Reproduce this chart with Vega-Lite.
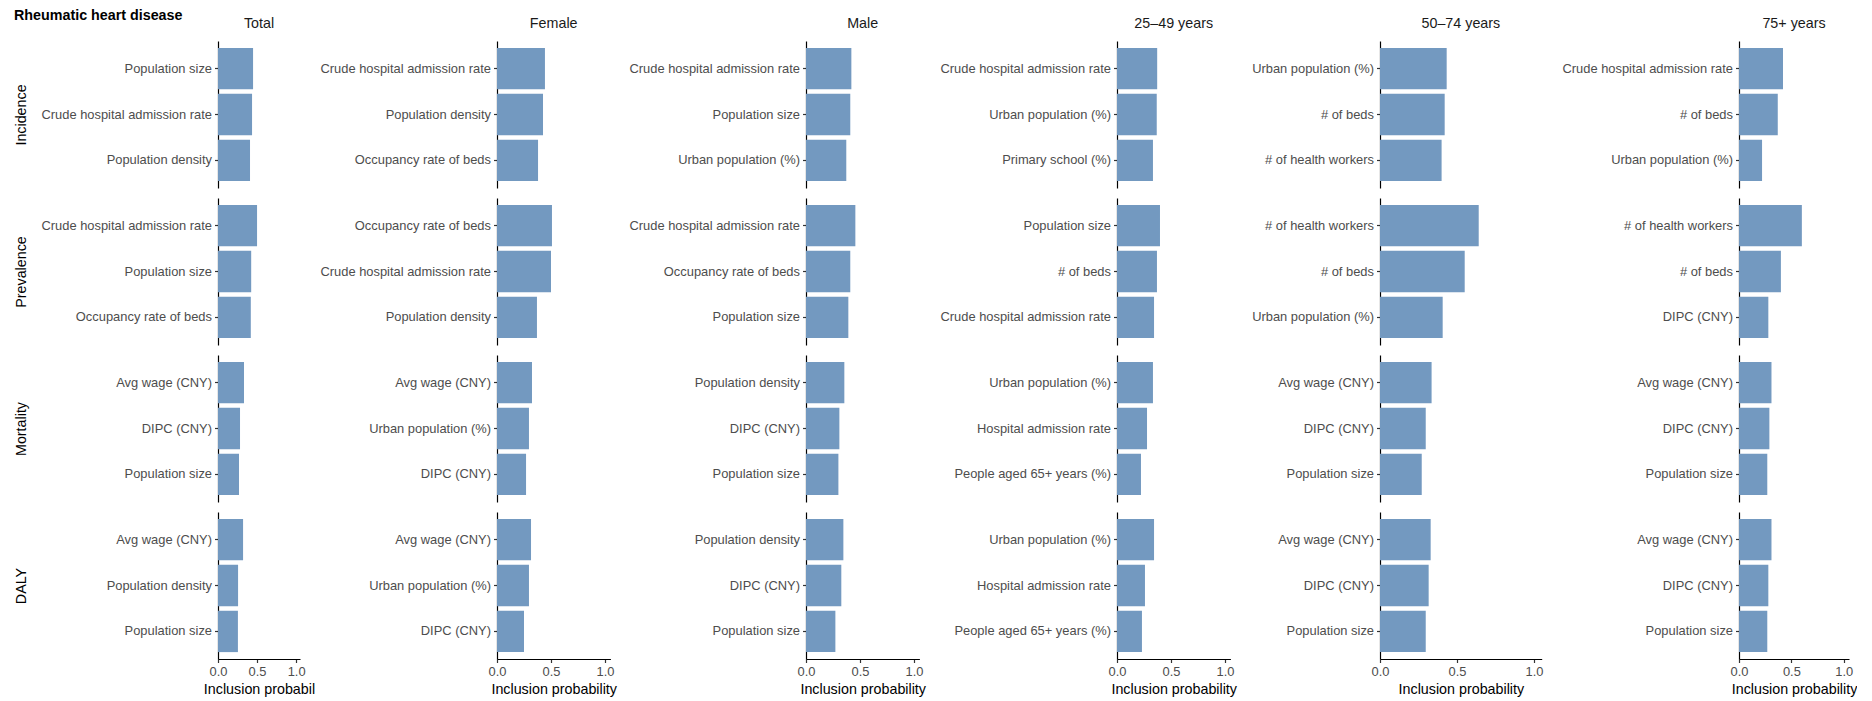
{
"$schema": "https://vega.github.io/schema/vega-lite/v6.json",
"padding": {"left": 14, "top": 9, "right": 0, "bottom": 0},
"title": {"text": "Rheumatic heart disease", "anchor": "start", "fontSize": 14.3, "fontWeight": "bold", "color": "#000000", "offset": -17.3, "baseline": "alphabetic"},
"data": {"values": [
{"g":"Total","m":"Incidence","v":"Population size","p":0.449},
{"g":"Total","m":"Incidence","v":"Crude hospital admission rate","p":0.436},
{"g":"Total","m":"Incidence","v":"Population density","p":0.41},
{"g":"Total","m":"Prevalence","v":"Crude hospital admission rate","p":0.5},
{"g":"Total","m":"Prevalence","v":"Population size","p":0.425},
{"g":"Total","m":"Prevalence","v":"Occupancy rate of beds","p":0.42},
{"g":"Total","m":"Mortality","v":"Avg wage (CNY)","p":0.333},
{"g":"Total","m":"Mortality","v":"DIPC (CNY)","p":0.282},
{"g":"Total","m":"Mortality","v":"Population size","p":0.269},
{"g":"Total","m":"DALY","v":"Avg wage (CNY)","p":0.321},
{"g":"Total","m":"DALY","v":"Population density","p":0.257},
{"g":"Total","m":"DALY","v":"Population size","p":0.255},
{"g":"Female","m":"Incidence","v":"Crude hospital admission rate","p":0.444},
{"g":"Female","m":"Incidence","v":"Population density","p":0.426},
{"g":"Female","m":"Incidence","v":"Occupancy rate of beds","p":0.38},
{"g":"Female","m":"Prevalence","v":"Occupancy rate of beds","p":0.509},
{"g":"Female","m":"Prevalence","v":"Crude hospital admission rate","p":0.5},
{"g":"Female","m":"Prevalence","v":"Population density","p":0.37},
{"g":"Female","m":"Mortality","v":"Avg wage (CNY)","p":0.324},
{"g":"Female","m":"Mortality","v":"Urban population (%)","p":0.296},
{"g":"Female","m":"Mortality","v":"DIPC (CNY)","p":0.269},
{"g":"Female","m":"DALY","v":"Avg wage (CNY)","p":0.315},
{"g":"Female","m":"DALY","v":"Urban population (%)","p":0.296},
{"g":"Female","m":"DALY","v":"DIPC (CNY)","p":0.25},
{"g":"Male","m":"Incidence","v":"Crude hospital admission rate","p":0.42},
{"g":"Male","m":"Incidence","v":"Population size","p":0.41},
{"g":"Male","m":"Incidence","v":"Urban population (%)","p":0.373},
{"g":"Male","m":"Prevalence","v":"Crude hospital admission rate","p":0.457},
{"g":"Male","m":"Prevalence","v":"Occupancy rate of beds","p":0.41},
{"g":"Male","m":"Prevalence","v":"Population size","p":0.392},
{"g":"Male","m":"Mortality","v":"Population density","p":0.355},
{"g":"Male","m":"Mortality","v":"DIPC (CNY)","p":0.309},
{"g":"Male","m":"Mortality","v":"Population size","p":0.3},
{"g":"Male","m":"DALY","v":"Population density","p":0.346},
{"g":"Male","m":"DALY","v":"DIPC (CNY)","p":0.327},
{"g":"Male","m":"DALY","v":"Population size","p":0.272},
{"g":"25–49 years","m":"Incidence","v":"Crude hospital admission rate","p":0.372},
{"g":"25–49 years","m":"Incidence","v":"Urban population (%)","p":0.368},
{"g":"25–49 years","m":"Incidence","v":"Primary school (%)","p":0.333},
{"g":"25–49 years","m":"Prevalence","v":"Population size","p":0.398},
{"g":"25–49 years","m":"Prevalence","v":"# of beds","p":0.37},
{"g":"25–49 years","m":"Prevalence","v":"Crude hospital admission rate","p":0.343},
{"g":"25–49 years","m":"Mortality","v":"Urban population (%)","p":0.333},
{"g":"25–49 years","m":"Mortality","v":"Hospital admission rate","p":0.278},
{"g":"25–49 years","m":"Mortality","v":"People aged 65+ years (%)","p":0.222},
{"g":"25–49 years","m":"DALY","v":"Urban population (%)","p":0.343},
{"g":"25–49 years","m":"DALY","v":"Hospital admission rate","p":0.259},
{"g":"25–49 years","m":"DALY","v":"People aged 65+ years (%)","p":0.231},
{"g":"50–74 years","m":"Incidence","v":"Urban population (%)","p":0.433},
{"g":"50–74 years","m":"Incidence","v":"# of beds","p":0.42},
{"g":"50–74 years","m":"Incidence","v":"# of health workers","p":0.4},
{"g":"50–74 years","m":"Prevalence","v":"# of health workers","p":0.641},
{"g":"50–74 years","m":"Prevalence","v":"# of beds","p":0.55},
{"g":"50–74 years","m":"Prevalence","v":"Urban population (%)","p":0.407},
{"g":"50–74 years","m":"Mortality","v":"Avg wage (CNY)","p":0.335},
{"g":"50–74 years","m":"Mortality","v":"DIPC (CNY)","p":0.297},
{"g":"50–74 years","m":"Mortality","v":"Population size","p":0.271},
{"g":"50–74 years","m":"DALY","v":"Avg wage (CNY)","p":0.329},
{"g":"50–74 years","m":"DALY","v":"DIPC (CNY)","p":0.316},
{"g":"50–74 years","m":"DALY","v":"Population size","p":0.297},
{"g":"75+ years","m":"Incidence","v":"Crude hospital admission rate","p":0.42},
{"g":"75+ years","m":"Incidence","v":"# of beds","p":0.37},
{"g":"75+ years","m":"Incidence","v":"Urban population (%)","p":0.22},
{"g":"75+ years","m":"Prevalence","v":"# of health workers","p":0.6},
{"g":"75+ years","m":"Prevalence","v":"# of beds","p":0.4},
{"g":"75+ years","m":"Prevalence","v":"DIPC (CNY)","p":0.28},
{"g":"75+ years","m":"Mortality","v":"Avg wage (CNY)","p":0.31},
{"g":"75+ years","m":"Mortality","v":"DIPC (CNY)","p":0.29},
{"g":"75+ years","m":"Mortality","v":"Population size","p":0.27},
{"g":"75+ years","m":"DALY","v":"Avg wage (CNY)","p":0.31},
{"g":"75+ years","m":"DALY","v":"DIPC (CNY)","p":0.28},
{"g":"75+ years","m":"DALY","v":"Population size","p":0.27}
]},
"spacing": 0,
"hconcat": [
{"vconcat": [
{"title": "Total", "width": 82, "height": 147, "transform": [{"filter": "datum.g=='Total' && datum.m=='Incidence'"}], "mark": "bar", "encoding": {"x": {"field": "p", "type": "quantitative", "scale": {"domain": [0, 1.05], "nice": false}, "axis": null}, "y": {"field": "v", "type": "nominal", "sort": "-x", "axis": {"title": "Incidence", "minExtent": 180, "titlePadding": 10}}}},
{"width": 82, "height": 147, "transform": [{"filter": "datum.g=='Total' && datum.m=='Prevalence'"}], "mark": "bar", "encoding": {"x": {"field": "p", "type": "quantitative", "scale": {"domain": [0, 1.05], "nice": false}, "axis": null}, "y": {"field": "v", "type": "nominal", "sort": "-x", "axis": {"title": "Prevalence", "minExtent": 180, "titlePadding": 10}}}},
{"width": 82, "height": 147, "transform": [{"filter": "datum.g=='Total' && datum.m=='Mortality'"}], "mark": "bar", "encoding": {"x": {"field": "p", "type": "quantitative", "scale": {"domain": [0, 1.05], "nice": false}, "axis": null}, "y": {"field": "v", "type": "nominal", "sort": "-x", "axis": {"title": "Mortality", "minExtent": 180, "titlePadding": 10}}}},
{"width": 82, "height": 147, "transform": [{"filter": "datum.g=='Total' && datum.m=='DALY'"}], "mark": "bar", "encoding": {"x": {"field": "p", "type": "quantitative", "scale": {"domain": [0, 1.05], "nice": false}, "axis": {"title": "Inclusion probabil", "values": [0, 0.5, 1], "format": ".1f"}}, "y": {"field": "v", "type": "nominal", "sort": "-x", "axis": {"title": "DALY", "minExtent": 180, "titlePadding": 10}}}}
], "spacing": 10, "bounds": "flush"},
{"vconcat": [
{"title": "Female", "width": 113.4, "height": 147, "transform": [{"filter": "datum.g=='Female' && datum.m=='Incidence'"}], "mark": "bar", "encoding": {"x": {"field": "p", "type": "quantitative", "scale": {"domain": [0, 1.05], "nice": false}, "axis": null}, "y": {"field": "v", "type": "nominal", "sort": "-x", "axis": {"title": null, "minExtent": 181.3}}}},
{"width": 113.4, "height": 147, "transform": [{"filter": "datum.g=='Female' && datum.m=='Prevalence'"}], "mark": "bar", "encoding": {"x": {"field": "p", "type": "quantitative", "scale": {"domain": [0, 1.05], "nice": false}, "axis": null}, "y": {"field": "v", "type": "nominal", "sort": "-x", "axis": {"title": null, "minExtent": 181.3}}}},
{"width": 113.4, "height": 147, "transform": [{"filter": "datum.g=='Female' && datum.m=='Mortality'"}], "mark": "bar", "encoding": {"x": {"field": "p", "type": "quantitative", "scale": {"domain": [0, 1.05], "nice": false}, "axis": null}, "y": {"field": "v", "type": "nominal", "sort": "-x", "axis": {"title": null, "minExtent": 181.3}}}},
{"width": 113.4, "height": 147, "transform": [{"filter": "datum.g=='Female' && datum.m=='DALY'"}], "mark": "bar", "encoding": {"x": {"field": "p", "type": "quantitative", "scale": {"domain": [0, 1.05], "nice": false}, "axis": {"title": "Inclusion probability", "values": [0, 0.5, 1], "format": ".1f"}}, "y": {"field": "v", "type": "nominal", "sort": "-x", "axis": {"title": null, "minExtent": 181.3}}}}
], "spacing": 10, "bounds": "flush"},
{"vconcat": [
{"title": "Male", "width": 113.4, "height": 147, "transform": [{"filter": "datum.g=='Male' && datum.m=='Incidence'"}], "mark": "bar", "encoding": {"x": {"field": "p", "type": "quantitative", "scale": {"domain": [0, 1.05], "nice": false}, "axis": null}, "y": {"field": "v", "type": "nominal", "sort": "-x", "axis": {"title": null, "minExtent": 188.3}}}},
{"width": 113.4, "height": 147, "transform": [{"filter": "datum.g=='Male' && datum.m=='Prevalence'"}], "mark": "bar", "encoding": {"x": {"field": "p", "type": "quantitative", "scale": {"domain": [0, 1.05], "nice": false}, "axis": null}, "y": {"field": "v", "type": "nominal", "sort": "-x", "axis": {"title": null, "minExtent": 188.3}}}},
{"width": 113.4, "height": 147, "transform": [{"filter": "datum.g=='Male' && datum.m=='Mortality'"}], "mark": "bar", "encoding": {"x": {"field": "p", "type": "quantitative", "scale": {"domain": [0, 1.05], "nice": false}, "axis": null}, "y": {"field": "v", "type": "nominal", "sort": "-x", "axis": {"title": null, "minExtent": 188.3}}}},
{"width": 113.4, "height": 147, "transform": [{"filter": "datum.g=='Male' && datum.m=='DALY'"}], "mark": "bar", "encoding": {"x": {"field": "p", "type": "quantitative", "scale": {"domain": [0, 1.05], "nice": false}, "axis": {"title": "Inclusion probability", "values": [0, 0.5, 1], "format": ".1f"}}, "y": {"field": "v", "type": "nominal", "sort": "-x", "axis": {"title": null, "minExtent": 188.3}}}}
], "spacing": 10, "bounds": "flush"},
{"vconcat": [
{"title": "25–49 years", "width": 113.4, "height": 147, "transform": [{"filter": "datum.g=='25–49 years' && datum.m=='Incidence'"}], "mark": "bar", "encoding": {"x": {"field": "p", "type": "quantitative", "scale": {"domain": [0, 1.05], "nice": false}, "axis": null}, "y": {"field": "v", "type": "nominal", "sort": "-x", "axis": {"title": null, "minExtent": 190.5}}}},
{"width": 113.4, "height": 147, "transform": [{"filter": "datum.g=='25–49 years' && datum.m=='Prevalence'"}], "mark": "bar", "encoding": {"x": {"field": "p", "type": "quantitative", "scale": {"domain": [0, 1.05], "nice": false}, "axis": null}, "y": {"field": "v", "type": "nominal", "sort": "-x", "axis": {"title": null, "minExtent": 190.5}}}},
{"width": 113.4, "height": 147, "transform": [{"filter": "datum.g=='25–49 years' && datum.m=='Mortality'"}], "mark": "bar", "encoding": {"x": {"field": "p", "type": "quantitative", "scale": {"domain": [0, 1.05], "nice": false}, "axis": null}, "y": {"field": "v", "type": "nominal", "sort": "-x", "axis": {"title": null, "minExtent": 190.5}}}},
{"width": 113.4, "height": 147, "transform": [{"filter": "datum.g=='25–49 years' && datum.m=='DALY'"}], "mark": "bar", "encoding": {"x": {"field": "p", "type": "quantitative", "scale": {"domain": [0, 1.05], "nice": false}, "axis": {"title": "Inclusion probability", "values": [0, 0.5, 1], "format": ".1f"}}, "y": {"field": "v", "type": "nominal", "sort": "-x", "axis": {"title": null, "minExtent": 190.5}}}}
], "spacing": 10, "bounds": "flush"},
{"vconcat": [
{"title": "50–74 years", "width": 161.7, "height": 147, "transform": [{"filter": "datum.g=='50–74 years' && datum.m=='Incidence'"}], "mark": "bar", "encoding": {"x": {"field": "p", "type": "quantitative", "scale": {"domain": [0, 1.05], "nice": false}, "axis": null}, "y": {"field": "v", "type": "nominal", "sort": "-x", "axis": {"title": null, "minExtent": 142.1}}}},
{"width": 161.7, "height": 147, "transform": [{"filter": "datum.g=='50–74 years' && datum.m=='Prevalence'"}], "mark": "bar", "encoding": {"x": {"field": "p", "type": "quantitative", "scale": {"domain": [0, 1.05], "nice": false}, "axis": null}, "y": {"field": "v", "type": "nominal", "sort": "-x", "axis": {"title": null, "minExtent": 142.1}}}},
{"width": 161.7, "height": 147, "transform": [{"filter": "datum.g=='50–74 years' && datum.m=='Mortality'"}], "mark": "bar", "encoding": {"x": {"field": "p", "type": "quantitative", "scale": {"domain": [0, 1.05], "nice": false}, "axis": null}, "y": {"field": "v", "type": "nominal", "sort": "-x", "axis": {"title": null, "minExtent": 142.1}}}},
{"width": 161.7, "height": 147, "transform": [{"filter": "datum.g=='50–74 years' && datum.m=='DALY'"}], "mark": "bar", "encoding": {"x": {"field": "p", "type": "quantitative", "scale": {"domain": [0, 1.05], "nice": false}, "axis": {"title": "Inclusion probability", "values": [0, 0.5, 1], "format": ".1f"}}, "y": {"field": "v", "type": "nominal", "sort": "-x", "axis": {"title": null, "minExtent": 142.1}}}}
], "spacing": 10, "bounds": "flush"},
{"vconcat": [
{"title": "75+ years", "width": 110, "height": 147, "transform": [{"filter": "datum.g=='75+ years' && datum.m=='Incidence'"}], "mark": "bar", "encoding": {"x": {"field": "p", "type": "quantitative", "scale": {"domain": [0, 1.05], "nice": false}, "axis": null}, "y": {"field": "v", "type": "nominal", "sort": "-x", "axis": {"title": null, "minExtent": 195.7}}}},
{"width": 110, "height": 147, "transform": [{"filter": "datum.g=='75+ years' && datum.m=='Prevalence'"}], "mark": "bar", "encoding": {"x": {"field": "p", "type": "quantitative", "scale": {"domain": [0, 1.05], "nice": false}, "axis": null}, "y": {"field": "v", "type": "nominal", "sort": "-x", "axis": {"title": null, "minExtent": 195.7}}}},
{"width": 110, "height": 147, "transform": [{"filter": "datum.g=='75+ years' && datum.m=='Mortality'"}], "mark": "bar", "encoding": {"x": {"field": "p", "type": "quantitative", "scale": {"domain": [0, 1.05], "nice": false}, "axis": null}, "y": {"field": "v", "type": "nominal", "sort": "-x", "axis": {"title": null, "minExtent": 195.7}}}},
{"width": 110, "height": 147, "transform": [{"filter": "datum.g=='75+ years' && datum.m=='DALY'"}], "mark": "bar", "encoding": {"x": {"field": "p", "type": "quantitative", "scale": {"domain": [0, 1.05], "nice": false}, "axis": {"title": "Inclusion probability", "values": [0, 0.5, 1], "format": ".1f"}}, "y": {"field": "v", "type": "nominal", "sort": "-x", "axis": {"title": null, "minExtent": 195.7}}}}
], "spacing": 10, "bounds": "flush"}
],
"config": {
"font": "Liberation Sans",
"view": {"stroke": null},
"scale": {"bandPaddingInner": 0.1, "bandPaddingOuter": 0.15},
"bar": {"color": "#7399C0"},
"axis": {"grid": false, "domainColor": "#000000", "domainWidth": 1.2, "tickColor": "#333333", "tickWidth": 1.2, "tickSize": 3.5, "labelFont": "Liberation Sans", "labelFontSize": 12.9, "labelColor": "#4D4D4D", "labelPadding": 3, "labelLimit": 300, "titleFont": "Liberation Sans", "titleFontSize": 14.3, "titleColor": "#000000", "titleFontWeight": "normal", "maxExtent": 260},
"axisX": {"titlePadding": 4, "labelFlush": false},
"title": {"font": "Liberation Sans", "fontSize": 14.3, "fontWeight": "normal", "color": "#1A1A1A", "baseline": "alphabetic", "offset": 9.5}
}
}
